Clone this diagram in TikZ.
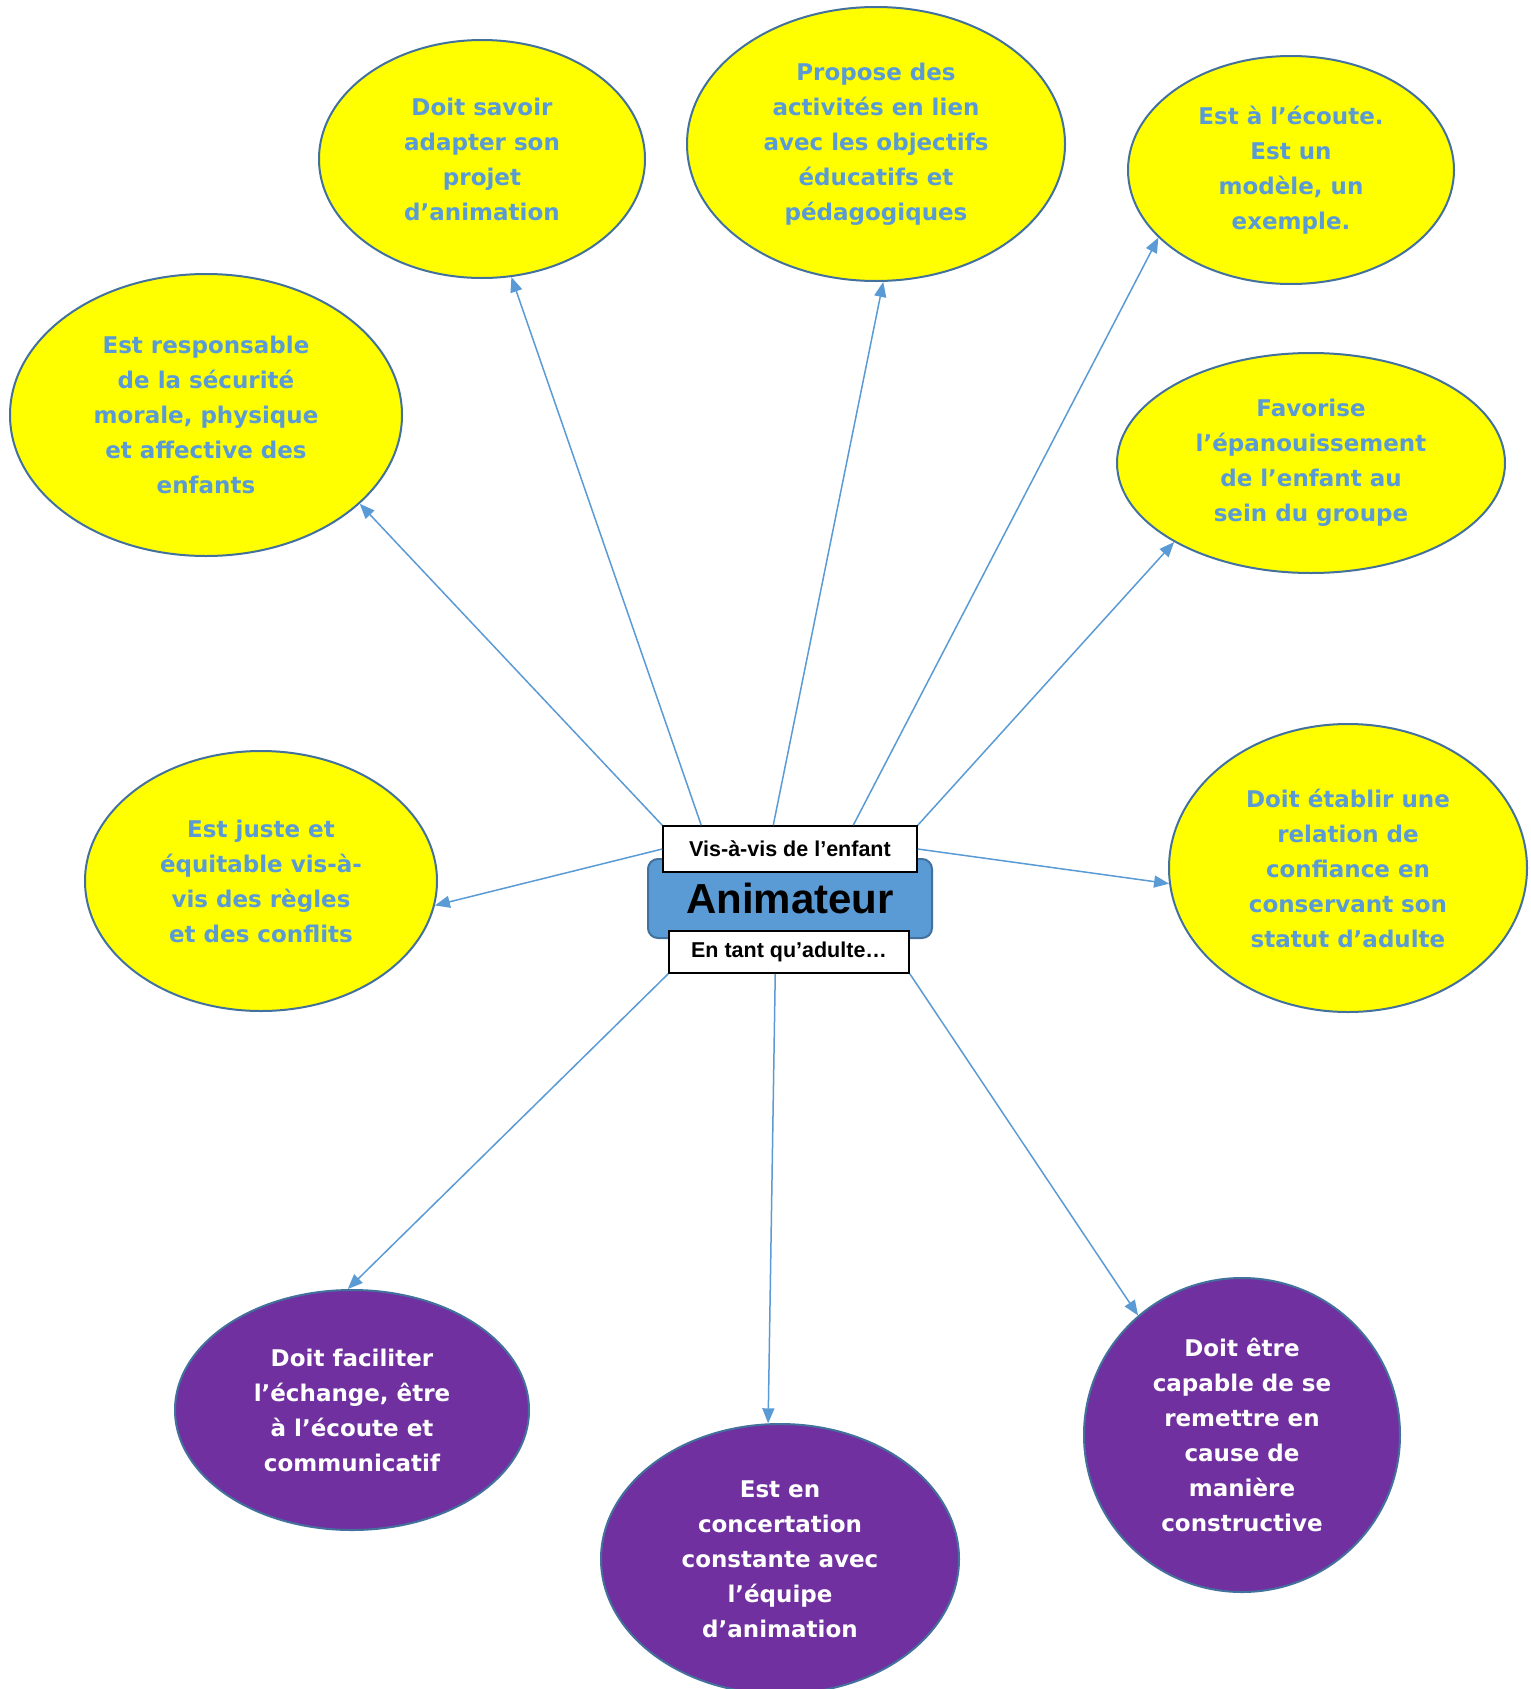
\documentclass[tikz,border=0pt]{standalone}
\usepackage{fontspec}
\setmainfont{DejaVu Sans}
\newfontfamily\libsans{Liberation Sans}
\usetikzlibrary{shapes.geometric,arrows.meta}
\definecolor{ybl}{HTML}{5B9BD5}
\definecolor{edgec}{HTML}{41719C}
\definecolor{purp}{HTML}{7030A0}
\definecolor{yel}{HTML}{FFFF00}
\begin{document}
\begin{tikzpicture}[x=1pt,y=-1pt,
 bub/.style={ellipse,draw=edgec,line width=2pt,inner sep=0pt,align=center,font=\fontsize{23}{35}\selectfont\bfseries},
 yb/.style={bub,fill=yel,text=ybl},
 pb/.style={bub,fill=purp,text=white},
 lab/.style={draw=black,line width=1.5pt,fill=white,font=\libsans\bfseries\fontsize{21.5}{26}\selectfont,inner sep=0pt},
 conn/.style={draw=ybl,line width=1.5pt,-{Triangle[length=15pt,width=12pt]}}]
\useasboundingbox (0,0) rectangle (1531,1689);
\fill[white] (0,0) rectangle (1531,1689);

\node[yb,minimum width=326pt,minimum height=238pt] (e1) at (482,159) {Doit savoir\\adapter son\\projet\\d’animation};
\node[yb,minimum width=378pt,minimum height=274pt] (e2) at (876,144) {Propose des\\activités en lien\\avec les objectifs\\éducatifs et\\pédagogiques};
\node[yb,minimum width=326pt,minimum height=228pt] (e3) at (1291,170) {Est à l’écoute.\\Est un\\modèle, un\\exemple.};
\node[yb,minimum width=392pt,minimum height=282pt] (e4) at (206,415) {Est responsable\\de la sécurité\\morale, physique\\et affective des\\enfants};
\node[yb,minimum width=388pt,minimum height=220pt] (e5) at (1311,463) {Favorise\\l’épanouissement\\de l’enfant au\\sein du groupe};
\node[yb,minimum width=352pt,minimum height=260pt] (e6) at (261,881) {Est juste et\\équitable vis-à-\\vis des règles\\et des conflits};
\node[yb,minimum width=358pt,minimum height=288pt] (e7) at (1348,868) {Doit établir une\\relation de\\confiance en\\conservant son\\statut d’adulte};
\node[pb,minimum width=354pt,minimum height=240pt] (e8) at (352,1410) {Doit faciliter\\l’échange, être\\à l’écoute et\\communicatif};
\node[pb,minimum width=358pt,minimum height=270pt] (e9) at (780,1559) {Est en\\concertation\\constante avec\\l’équipe\\d’animation};
\node[pb,minimum width=316pt,minimum height=314pt] (e10) at (1242,1435) {Doit être\\capable de se\\remettre en\\cause de\\manière\\constructive};

\node[draw=edgec,fill=ybl,line width=2pt,rounded corners=10pt,minimum width=284pt,minimum height=79pt,inner sep=0pt,font=\libsans\bfseries\fontsize{42}{50}\selectfont] (anim) at (790,898.5) {Animateur};
\node[lab,minimum width=254pt,minimum height=46pt] (vis) at (790,849) {Vis-à-vis de l’enfant};
\node[lab,minimum width=240pt,minimum height=42pt] (adu) at (789,952) {En tant qu’adulte…};

\draw[conn] ([xshift=39pt]vis.north west) -- (e1.284);
\draw[conn] ([xshift=111pt]vis.north west) -- (e2.273);
\draw[conn] ([xshift=191pt]vis.north west) -- (e3.207);
\draw[conn] (vis.north west) -- (e4.330);
\draw[conn] (vis.north east) -- (e5.210);
\draw[conn] (vis.west) -- (e6.352);
\draw[conn] (vis.east) -- (e7.185);
\draw[conn] (adu.south west) -- (e8.92);
\draw[conn] ([xshift=107pt]adu.south west) -- (e9.95);
\draw[conn] (adu.south east) -- (e10.131);
\end{tikzpicture}
\end{document}
